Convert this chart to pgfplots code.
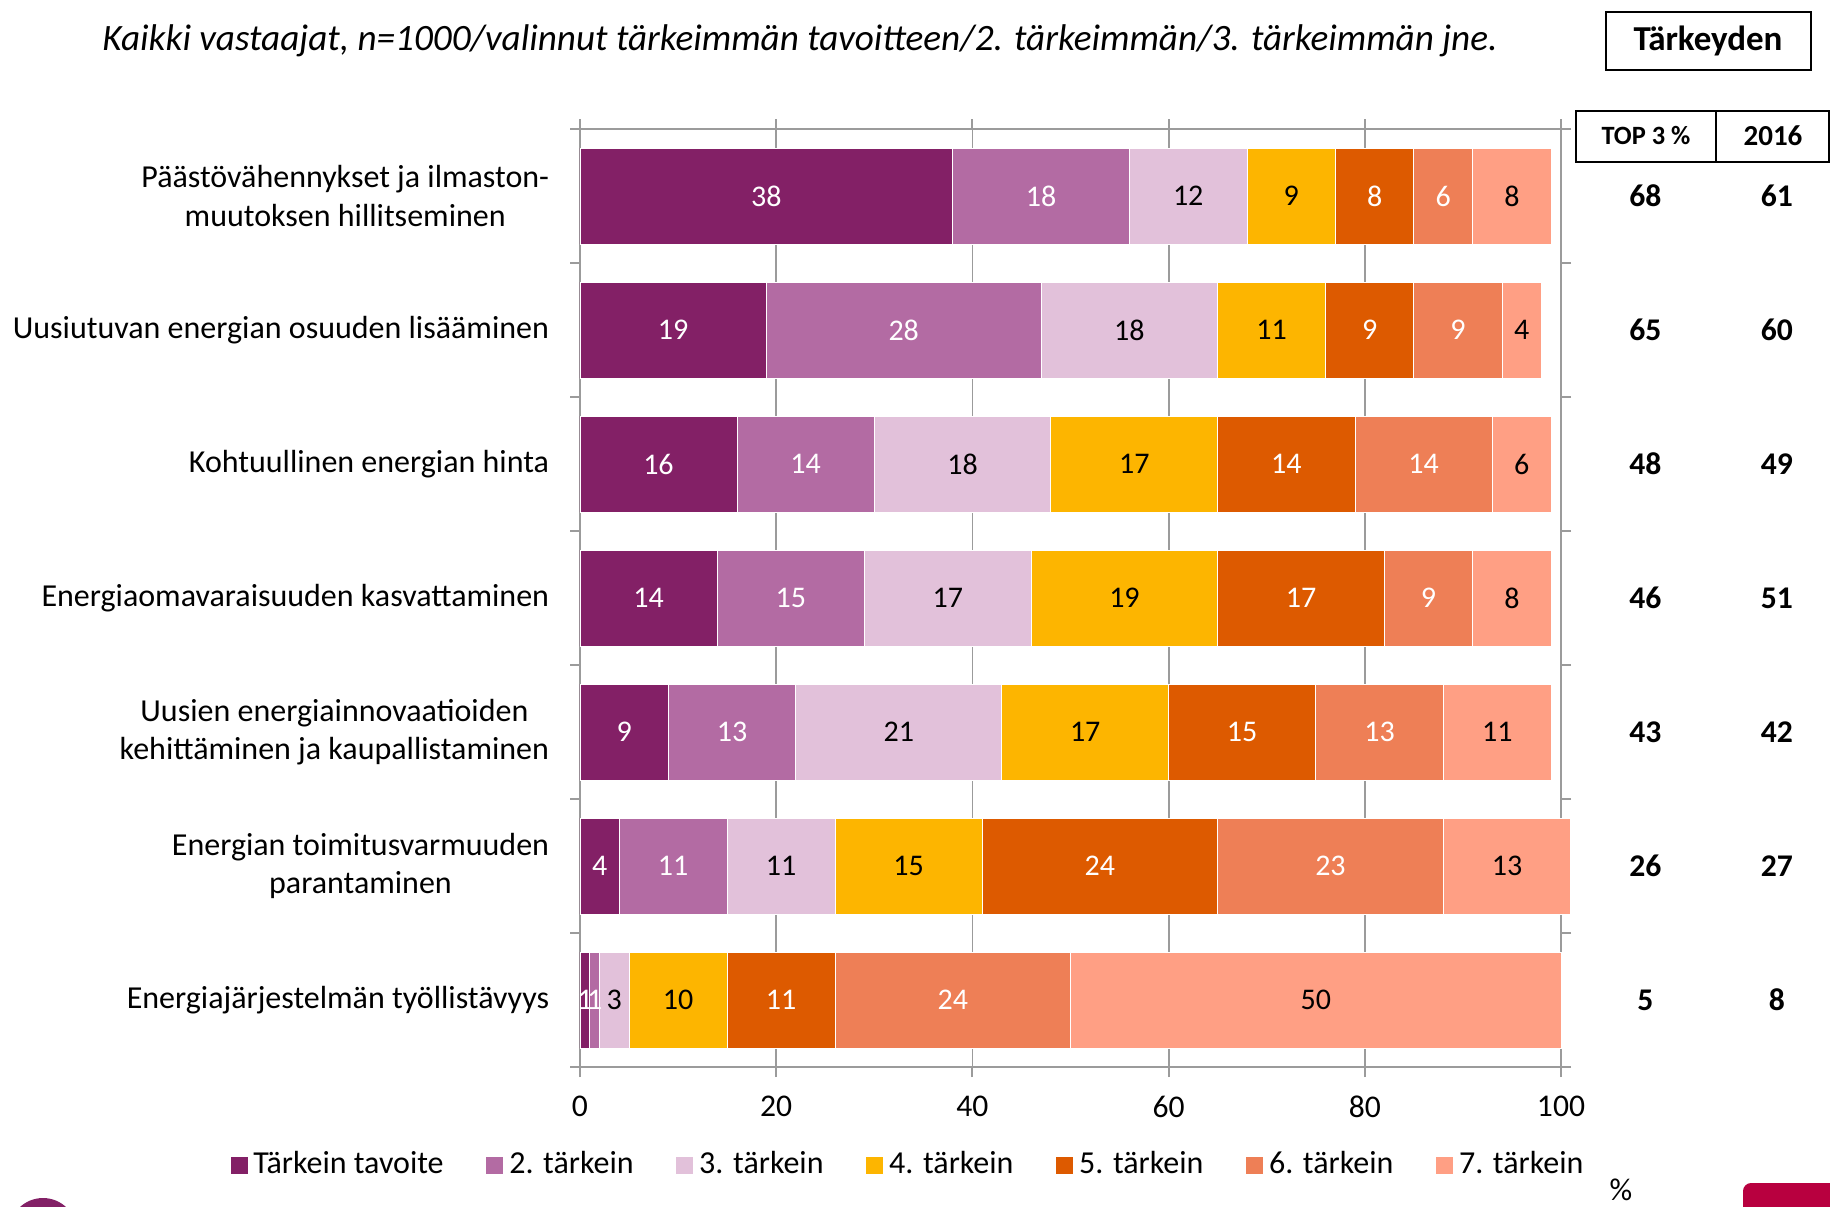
\documentclass[border=0pt]{standalone}
\usepackage{fontspec}
\setmainfont{Carlito}
\usepackage{pgfplots}
\usepackage{pgfplotstable}
\pgfplotsset{compat=1.18}

\definecolor{c1}{HTML}{832066}
\definecolor{c2}{HTML}{B36BA3}
\definecolor{c3}{HTML}{E2C1DA}
\definecolor{c4}{HTML}{FDB500}
\definecolor{c5}{HTML}{DD5A00}
\definecolor{c6}{HTML}{EE7F56}
\definecolor{c7}{HTML}{FF9F84}
\definecolor{axgray}{HTML}{9B9B9B}
\definecolor{logored}{HTML}{B8003F}

% rows top to bottom; s1..s7 = share choosing it as 1st..7th most important
\pgfplotstableread{
c s1 s2 s3 s4 s5 s6 s7 top3 y2016
0 38 18 12 9 8 6 8 68 61
1 19 28 18 11 9 9 4 65 60
2 16 14 18 17 14 14 6 48 49
3 14 15 17 19 17 9 8 46 51
4 9 13 21 17 15 13 11 43 42
5 4 11 11 15 24 23 13 26 27
6 1 1 3 10 11 24 50 5 8
}\goals

\pgfplotsset{
  /pgf/number format/assume math mode=true,
  seg/.style={fill=#1, draw=white, line width=0.4pt},
  lbl/.style={only marks, mark=text, text mark={},
    nodes near coords, point meta=explicit symbolic,
    every node near coord/.append style={anchor=center, text=#1,
      font=\fontsize{15}{18}\selectfont}},
  frame/.style={at={(290pt,-533.5pt)}, anchor=south west,
    scale only axis, width=490.5pt, height=469pt,
    xmin=0, xmax=100, ymin=-0.5, ymax=6.5, y dir=reverse},
}

\begin{document}
\fontsize{15.8}{19}\selectfont
\begin{tikzpicture}[x=0.5pt,y=-0.5pt]
\useasboundingbox (0,0) rectangle (1830,1206);
\begin{axis}[
  frame,
  xbar stacked, bar width=48pt, clip=false,
  xtick={0,20,...,100},
  xticklabel style={yshift=-4pt},
  ytick={-0.5,0.5,...,6.5}, yticklabels={,,,,,,,,},
  extra y ticks={0,1,2,3,4,5,6},
  extra y tick labels={{Päästövähennykset ja ilmaston-\\muutoksen hillitseminen},
    Uusiutuvan energian osuuden lisääminen,
    Kohtuullinen energian hinta,
    Energiaomavaraisuuden kasvattaminen,
    {Uusien energiainnovaatioiden\\kehittäminen ja kaupallistaminen},
    {Energian toimitusvarmuuden\\parantaminen},
    Energiajärjestelmän työllistävyys},
  extra y tick style={major tick length=0pt,
    yticklabel style={xshift=-10pt, font=\fontsize{16}{19.3}\selectfont}},
  yticklabel style={align=center},
  tick align=outside, major tick length=5pt,
  tick style={axgray, line width=1pt},
  axis line style={axgray, line width=1.2pt},
  xmajorgrids, grid style={axgray, line width=0.9pt},
  legend columns=7,
  legend style={at={(0.3354,-0.1045)}, anchor=center, draw=none,
    font=\fontsize{16}{19}\selectfont,
    nodes={inner sep=2.5pt},
    /tikz/every even column/.append style={column sep=18.4pt}},
  legend cell align=left,
  legend image code/.code={\fill[#1] (0pt,-4.5pt) rectangle (9pt,4.5pt);},
]
\addplot[seg=c1] table[x=s1, y=c] {\goals};
\addplot[seg=c2] table[x=s2, y=c] {\goals};
\addplot[seg=c3] table[x=s3, y=c] {\goals};
\addplot[seg=c4] table[x=s4, y=c] {\goals};
\addplot[seg=c5] table[x=s5, y=c] {\goals};
\addplot[seg=c6] table[x=s6, y=c] {\goals};
\addplot[seg=c7] table[x=s7, y=c] {\goals};
\legend{Tärkein tavoite, 2. tärkein, 3. tärkein, 4. tärkein, 5. tärkein, 6. tärkein, 7. tärkein}
\end{axis}

% segment labels at the middle of each segment, and the right-hand columns
\begin{axis}[frame, hide axis, clip=false]
\addplot[lbl=white] table[x expr=\thisrow{s1}/2, y=c, meta=s1] {\goals};
\addplot[lbl=white] table[x expr=\thisrow{s1}+\thisrow{s2}/2, y=c, meta=s2] {\goals};
\addplot[lbl=black] table[x expr=\thisrow{s1}+\thisrow{s2}+\thisrow{s3}/2, y=c, meta=s3] {\goals};
\addplot[lbl=black] table[x expr=\thisrow{s1}+\thisrow{s2}+\thisrow{s3}+\thisrow{s4}/2, y=c, meta=s4] {\goals};
\addplot[lbl=white] table[x expr=\thisrow{s1}+\thisrow{s2}+\thisrow{s3}+\thisrow{s4}+\thisrow{s5}/2, y=c, meta=s5] {\goals};
\addplot[lbl=white] table[x expr=\thisrow{s1}+\thisrow{s2}+\thisrow{s3}+\thisrow{s4}+\thisrow{s5}+\thisrow{s6}/2, y=c, meta=s6] {\goals};
\addplot[lbl=black] table[x expr=\thisrow{s1}+\thisrow{s2}+\thisrow{s3}+\thisrow{s4}+\thisrow{s5}+\thisrow{s6}+\thisrow{s7}/2, y=c, meta=s7] {\goals};
\addplot[lbl=black, every node near coord/.append style={font=\fontsize{15.8}{19}\selectfont\bfseries}]
  table[x expr=108.6, y=c, meta=top3] {\goals};
\addplot[lbl=black, every node near coord/.append style={font=\fontsize{15.8}{19}\selectfont\bfseries}]
  table[x expr=122.0, y=c, meta=y2016] {\goals};
\end{axis}

\node[font=\fontsize{18.6}{22}\selectfont\itshape] at (800,41) {Kaikki vastaajat, n=1000/valinnut tärkeimmän tavoitteen/2. tärkeimmän/3. tärkeimmän jne.};
\draw[line width=1pt] (1606,12) rectangle (1811,70);
\node[font=\fontsize{17.5}{20}\selectfont\bfseries] at (1708,41) {Tärkeyden};
\draw[line width=1pt] (1576,111) rectangle (1716,162);
\draw[line width=1pt] (1716,111) rectangle (1829,162);
\node[font=\fontsize{13.2}{16}\selectfont\bfseries] at (1646,136) {TOP 3 \%};
\node[font=\fontsize{14.5}{17}\selectfont\bfseries] at (1773,136) {2016};
\node[inner sep=0pt] at (1621,1190) {\%};
\fill[c1] (43,1232) circle (17pt);
\fill[logored, rounded corners=4pt] (1743,1183) rectangle (1850,1240);
\end{tikzpicture}
\end{document}
